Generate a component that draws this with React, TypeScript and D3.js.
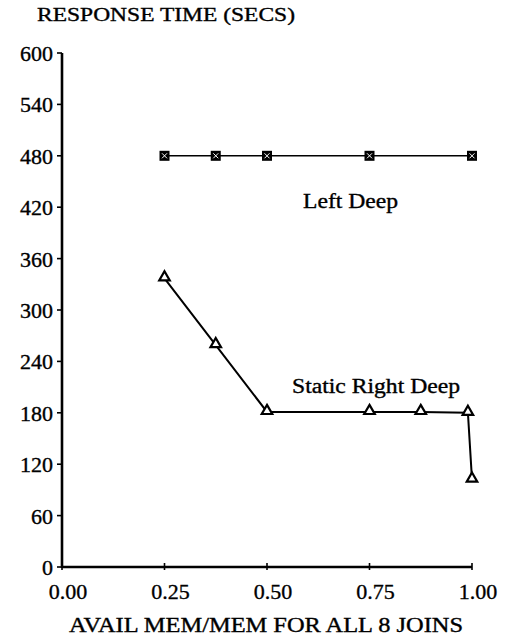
import React from 'react'
import * as d3 from 'd3'

const xTicks = [0, 0.25, 0.5, 0.75, 1.0]
const yTicks = [0, 60, 120, 180, 240, 300, 360, 420, 480, 540, 600]

const leftDeepX = [0.25, 0.375, 0.5, 0.75, 1.0]
const leftDeepY = [480, 480, 480, 480, 480]

const rightDeepX = [0.25, 0.375, 0.5, 0.75, 0.875, 0.99, 1.0]
const rightDeepY = [337, 259, 181, 181, 181, 180, 102]

const width = 509
const height = 638
const font = 'Liberation Serif, DejaVu Serif, serif'

const App = () => {
	const x = d3.scaleLinear().domain([0, 1]).range([62, 472])
	const y = d3.scaleLinear().domain([0, 600]).range([567, 53])

	const line = d3
		.line<[number, number]>()
		.x(d => x(d[0]))
		.y(d => y(d[1]))

	const leftPts = leftDeepX.map((v, i) => [v, leftDeepY[i]] as [number, number])
	const rightPts = rightDeepX.map((v, i) => [v, rightDeepY[i]] as [number, number])

	const tri = d3.symbol().type(d3.symbolTriangle).size(48)()

	// slight stroke to mimic the heavier scanned type
	const txt = { fill: '#000', stroke: '#000', strokeWidth: 0.35, fontFamily: font }

	return (
		<svg
			width={width}
			height={height}
			style={{ position: 'absolute', left: 0, top: 0, background: '#fff' }}
		>
			<text x={37} y={21} fontSize={19} {...txt} textLength={258} lengthAdjust="spacingAndGlyphs">
				RESPONSE TIME (SECS)
			</text>

			{/* y axis */}
			<line x1={x(0)} x2={x(0)} y1={y(600)} y2={y(0) + 1} stroke="#000" strokeWidth={2.6} />
			{yTicks.map(t => (
				<g key={t}>
					<line x1={x(0) - 5} x2={x(0)} y1={y(t)} y2={y(t)} stroke="#000" strokeWidth={1.6} />
					<text x={x(0) - 9} y={y(t)} dy="0.36em" textAnchor="end" fontSize={22} {...txt}>{t}</text>
				</g>
			))}

			{/* x axis */}
			<line x1={x(0)} x2={x(1)} y1={y(0)} y2={y(0)} stroke="#000" strokeWidth={2.6} />
			{xTicks.map(t => (
				<g key={t}>
					<line x1={x(t)} x2={x(t)} y1={y(0) - 4} y2={y(0) + 3} stroke="#000" strokeWidth={1.6} />
					<text x={x(t) + 6} y={y(0) + 32} textAnchor="middle" fontSize={22} {...txt}>{t.toFixed(2)}</text>
				</g>
			))}
			<text x={69} y={632} fontSize={20} {...txt} textLength={394} lengthAdjust="spacingAndGlyphs">
				AVAIL MEM/MEM FOR ALL 8 JOINS
			</text>

			{/* Left Deep */}
			<path d={line(leftPts) ?? ''} fill="none" stroke="#000" strokeWidth={1.6} />
			{leftPts.map((p, i) => (
				<g key={i} transform={`translate(${x(p[0])},${y(p[1])})`}>
					<rect x={-5} y={-5} width={10} height={10} fill="#000" />
					<path d="M-2.5,-2.5L2.5,2.5M-2.5,2.5L2.5,-2.5" stroke="#fff" strokeWidth={1} />
				</g>
			))}
			<text x={303} y={208} fontSize={20} {...txt} textLength={95} lengthAdjust="spacingAndGlyphs">
				Left Deep
			</text>

			{/* Static Right Deep */}
			<path d={line(rightPts) ?? ''} fill="none" stroke="#000" strokeWidth={2} />
			{rightPts.map((p, i) => (
				<path
					key={i}
					d={tri ?? ''}
					transform={`translate(${x(p[0])},${y(p[1]) - 1})`}
					fill="#fff"
					stroke="#000"
					strokeWidth={2.2}
				/>
			))}
			<text x={292} y={393} fontSize={20} {...txt} textLength={168} lengthAdjust="spacingAndGlyphs">
				Static Right Deep
			</text>
		</svg>
	)
}

export default App
